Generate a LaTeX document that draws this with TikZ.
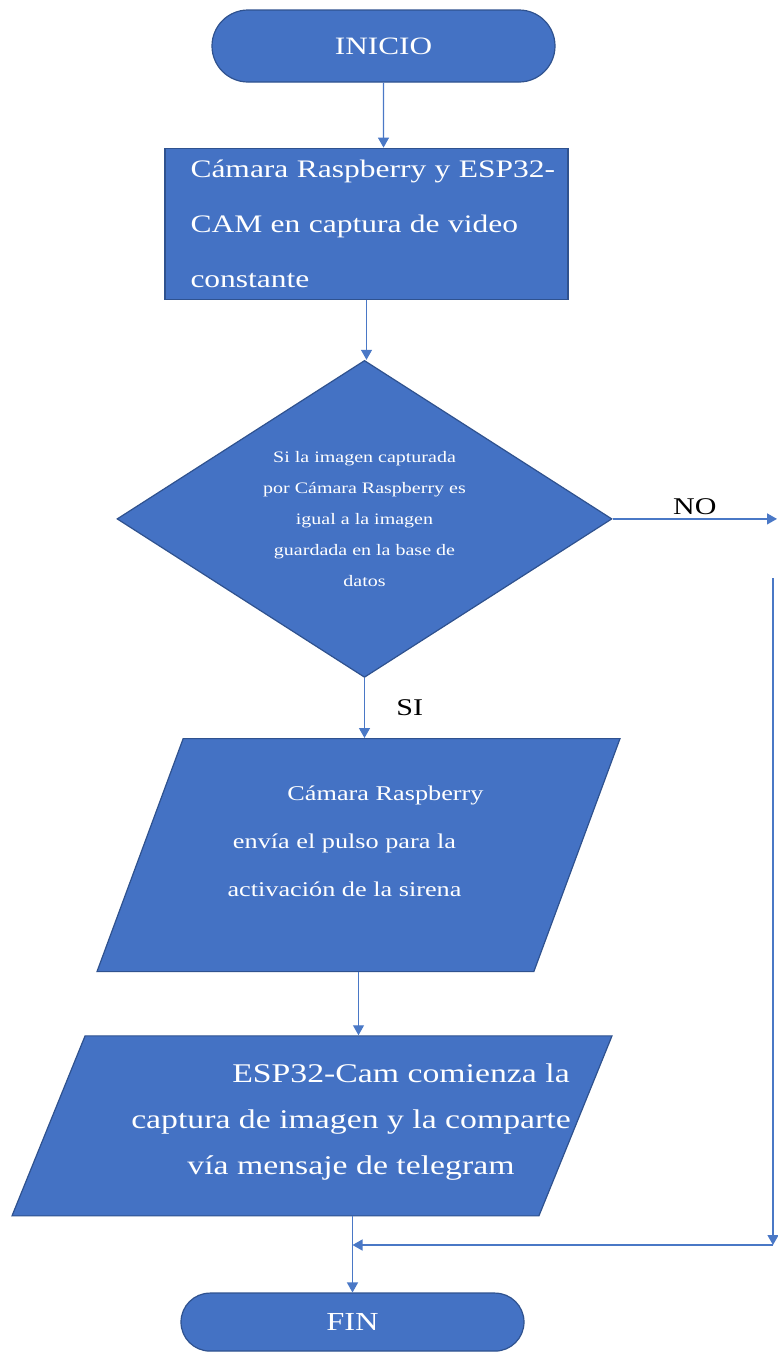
\documentclass[tikz,border=0pt]{standalone}
\usepackage{fontspec}
\setmainfont{Liberation Serif}[FakeStretch=1.25]
\usetikzlibrary{positioning, shapes.geometric, shapes.misc, arrows.meta}
\definecolor{azul}{HTML}{4472C4}
\definecolor{borde}{HTML}{2F528F}
\definecolor{linea}{HTML}{4A78C6}

\begin{document}
\begin{tikzpicture}[
    x = 1pt, y = -1pt,
    forma/.style = {draw = borde, fill = azul, line width = 1.2pt, text = white, inner sep = 0pt},
    terminal/.style = {forma, rounded rectangle, minimum width = 343pt, minimum height = 72pt, font = \fontsize{25}{30}\selectfont},
    proceso/.style = {forma, rectangle, minimum width = 403pt, minimum height = 151pt, text width = 352pt, align = left, font = \fontsize{25.2}{55}\selectfont},
    decision/.style = {forma, diamond, aspect = 1.56, minimum width = 495pt, minimum height = 317pt, align = center, font = \fontsize{16}{31}\selectfont},
    datos/.style = {forma, trapezium, trapezium stretches body},
    texto/.style = {text = white, align = center},
    etiqueta/.style = {text = black, font = \fontsize{24}{28}\selectfont},
    flecha/.style = {draw = linea, line width = 1.3pt, -{Triangle[width = 11pt, length = 10pt]}}
]
\useasboundingbox (0, 0) rectangle (777, 1353);
\node[terminal] (inicio) at (383.5, 46) {INICIO};
\node[proceso] (cam) [below = 65pt of inicio, xshift = -17pt] {\mbox{C\'amara Raspberry y ESP32-}\\\mbox{CAM en captura de video}\\constante};
\node[decision] (cond) [below = 60pt of cam, xshift = -2pt] {Si la imagen capturada\\por C\'amara Raspberry es\\igual a la imagen\\guardada en la base de\\datos};
\node[datos] (sirena) [below = 60pt of cond, xshift = -6pt, trapezium left angle = 69.7, trapezium right angle = 110.3, minimum width = 523pt, inner ysep = 116.5pt] {};
\node[texto, font = \fontsize{21}{48}\selectfont] (sirenatxt) at ([xshift = -14pt, yshift = 14pt]sirena.center) {\hspace*{82pt}C\'amara Raspberry\\env\'ia el pulso para la\\activaci\'on de la sirena};
\node[datos] (tele) [below = 63pt of sirena, xshift = -46.5pt, trapezium left angle = 67.9, trapezium right angle = 112.1, minimum width = 600pt, inner ysep = 90pt] {};
\node[texto, font = \fontsize{27}{46}\selectfont] (teletxt) at ([xshift = 39pt, yshift = 4pt]tele.center) {\hspace*{100pt}ESP32-Cam comienza la\\captura de imagen y la comparte\\v\'ia mensaje de telegram};
\node[terminal] (fin) [below = 76pt of tele, xshift = 40.5pt, minimum height = 58pt, font = \fontsize{26}{30}\selectfont] {FIN};
% puntos del retorno
\coordinate (noend) at (777, 516.5);
\coordinate (vtop) at (773, 578);
\coordinate (vbot) at (773, 1245);
\coordinate (union) at (fin.north |- vbot);
% flechas
\draw[flecha] (inicio) -- (inicio |- cam.north);
\draw[flecha] (cam) -- (cam |- cond.north);
\draw[flecha] (cond) -- node[etiqueta, right = 28pt] {SI} (cond |- sirena.north);
\draw[flecha] (sirena) -- (sirena |- tele.north);
\draw[flecha] (cond.east) -- node[etiqueta, above] {NO} (cond.east -| noend);
\draw[flecha] (vtop) -- (vbot);
\draw[flecha] (vbot) -- (union);
\draw[flecha] (fin.north |- tele.south) -- (fin.north);
\end{tikzpicture}
\end{document}
